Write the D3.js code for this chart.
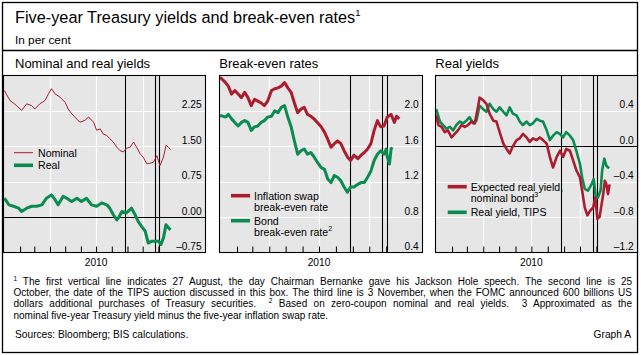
<!DOCTYPE html>
<html><head><meta charset="utf-8">
<script src="https://cdn.jsdelivr.net/npm/d3@7"></script>
<style>body{margin:0;background:#fff}svg{display:block}text{font-family:"Liberation Sans",Arial,sans-serif;fill:#000}</style>
</head><body><svg id="c" width="641" height="355"></svg>
<script>
// ---------------- DATA ----------------
const nominal = [["2010-01-01",2.68],["2010-01-12",2.47],["2010-01-22",2.39],["2010-02-04",2.26],["2010-02-14",2.40],["2010-02-24",2.36],["2010-03-02",2.29],["2010-03-12",2.40],["2010-03-22",2.47],["2010-03-29",2.61],["2010-04-04",2.72],["2010-04-11",2.61],["2010-04-21",2.54],["2010-05-01",2.43],["2010-05-07",2.29],["2010-05-14",2.19],["2010-05-20",2.12],["2010-05-30",2.01],["2010-06-09",2.05],["2010-06-16",2.12],["2010-06-26",2.01],["2010-07-02",1.84],["2010-07-09",1.87],["2010-07-15",1.76],["2010-07-22",1.73],["2010-07-28",1.66],["2010-08-04",1.59],["2010-08-11",1.48],["2010-08-17",1.41],["2010-08-24",1.38],["2010-08-30",1.46],["2010-09-06",1.48],["2010-09-13",1.59],["2010-09-19",1.48],["2010-09-26",1.34],["2010-10-02",1.27],["2010-10-09",1.13],["2010-10-15",1.14],["2010-10-22",1.16],["2010-10-29",1.30],["2010-11-04",1.09],["2010-11-11",1.27],["2010-11-16",1.52],["2010-11-21",1.48],["2010-11-25",1.43]];
const realYield = [["2010-01-01",0.40],["2010-01-10",0.26],["2010-01-19",0.23],["2010-01-29",0.19],["2010-02-04",0.12],["2010-02-14",0.19],["2010-02-24",0.23],["2010-03-06",0.23],["2010-03-16",0.26],["2010-03-25",0.40],["2010-04-04",0.47],["2010-04-11",0.37],["2010-04-17",0.26],["2010-04-27",0.44],["2010-05-04",0.40],["2010-05-14",0.33],["2010-05-24",0.40],["2010-06-02",0.33],["2010-06-12",0.40],["2010-06-22",0.26],["2010-07-02",0.23],["2010-07-12",0.30],["2010-07-22",0.26],["2010-07-28",0.19],["2010-08-04",0.05],["2010-08-11",-0.06],["2010-08-14",-0.02],["2010-08-21",0.12],["2010-08-30",0.09],["2010-09-09",0.19],["2010-09-16",0.05],["2010-09-22",-0.09],["2010-09-29",-0.20],["2010-10-06",-0.30],["2010-10-12",-0.55],["2010-10-19",-0.51],["2010-10-25",-0.51],["2010-11-01",-0.51],["2010-11-06",-0.58],["2010-11-11",-0.44],["2010-11-16",-0.16],["2010-11-21",-0.23],["2010-11-25",-0.27]];
const swapBreakEven = [["2010-01-01",2.38],["2010-01-11",2.32],["2010-01-16",2.28],["2010-01-22",2.19],["2010-01-28",2.23],["2010-02-03",2.19],["2010-02-09",2.15],["2010-02-15",2.21],["2010-02-21",2.15],["2010-02-27",2.06],["2010-03-05",2.13],["2010-03-11",2.11],["2010-03-17",2.09],["2010-03-23",2.06],["2010-03-29",2.11],["2010-04-05",2.23],["2010-04-11",2.25],["2010-04-17",2.26],["2010-04-23",2.28],["2010-04-29",2.32],["2010-05-05",2.26],["2010-05-11",2.21],["2010-05-17",2.09],["2010-05-23",1.98],["2010-05-29",2.02],["2010-06-04",2.04],["2010-06-10",1.96],["2010-06-16",1.94],["2010-06-22",1.91],["2010-06-28",1.87],["2010-07-05",1.82],["2010-07-11",1.76],["2010-07-17",1.68],["2010-07-23",1.59],["2010-07-29",1.63],["2010-08-04",1.66],["2010-08-10",1.63],["2010-08-16",1.55],["2010-08-22",1.48],["2010-08-28",1.44],["2010-09-03",1.50],["2010-09-10",1.46],["2010-09-16",1.50],["2010-09-22",1.53],["2010-09-28",1.57],["2010-10-04",1.63],["2010-10-10",1.78],["2010-10-16",1.89],["2010-10-22",1.82],["2010-10-28",1.83],["2010-11-03",1.93],["2010-11-10",1.96],["2010-11-16",1.87],["2010-11-20",1.94],["2010-11-25",1.91]];
const bondBreakEven = [["2010-01-01",1.95],["2010-01-11",1.93],["2010-01-16",1.96],["2010-01-22",1.91],["2010-01-28",1.87],["2010-02-03",1.83],["2010-02-09",1.87],["2010-02-15",1.89],["2010-02-21",1.87],["2010-02-27",1.78],["2010-03-05",1.82],["2010-03-11",1.83],["2010-03-17",1.87],["2010-03-23",1.89],["2010-03-29",1.93],["2010-04-05",1.94],["2010-04-11",2.00],["2010-04-17",1.98],["2010-04-23",2.04],["2010-04-29",2.06],["2010-05-05",1.93],["2010-05-11",1.82],["2010-05-17",1.66],["2010-05-23",1.51],["2010-05-29",1.55],["2010-06-04",1.57],["2010-06-10",1.51],["2010-06-16",1.53],["2010-06-22",1.48],["2010-06-28",1.42],["2010-07-05",1.36],["2010-07-11",1.34],["2010-07-17",1.23],["2010-07-23",1.19],["2010-07-29",1.27],["2010-08-04",1.25],["2010-08-10",1.21],["2010-08-16",1.14],["2010-08-22",1.08],["2010-08-28",1.14],["2010-09-03",1.14],["2010-09-10",1.17],["2010-09-16",1.19],["2010-09-22",1.19],["2010-09-28",1.25],["2010-10-04",1.32],["2010-10-10",1.44],["2010-10-16",1.51],["2010-10-22",1.55],["2010-10-28",1.51],["2010-11-01",1.57],["2010-11-03",1.48],["2010-11-07",1.40],["2010-11-10",1.57],["2010-11-12",1.59]];
const expectedReal = [["2010-01-02",0.35],["2010-01-06",0.24],["2010-01-12",0.22],["2010-01-18",0.16],["2010-01-24",0.18],["2010-01-31",0.10],["2010-02-06",0.14],["2010-02-12",0.18],["2010-02-19",0.24],["2010-02-25",0.22],["2010-03-03",0.24],["2010-03-10",0.28],["2010-03-16",0.26],["2010-03-22",0.44],["2010-03-25",0.55],["2010-04-01",0.52],["2010-04-07",0.48],["2010-04-13",0.37],["2010-04-20",0.29],["2010-04-26",0.28],["2010-05-02",0.16],["2010-05-09",0.03],["2010-05-15",-0.03],["2010-05-21",-0.08],["2010-05-27",0.00],["2010-06-03",0.07],["2010-06-09",0.09],["2010-06-15",0.14],["2010-06-22",0.10],["2010-06-28",0.05],["2010-07-04",0.09],["2010-07-11",0.07],["2010-07-17",0.10],["2010-07-23",0.07],["2010-07-30",0.03],["2010-08-05",-0.12],["2010-08-11",-0.24],["2010-08-18",-0.12],["2010-08-24",-0.05],["2010-08-30",-0.12],["2010-09-05",-0.03],["2010-09-12",-0.05],["2010-09-18",-0.16],["2010-09-24",-0.27],["2010-10-01",-0.35],["2010-10-05",-0.50],["2010-10-10",-0.69],["2010-10-15",-0.78],["2010-10-20",-0.73],["2010-10-26",-0.69],["2010-10-30",-0.58],["2010-11-03",-0.82],["2010-11-07",-0.80],["2010-11-14",-0.54],["2010-11-17",-0.39],["2010-11-20",-0.43],["2010-11-23",-0.54],["2010-11-26",-0.43]];
const tipsReal = [["2010-01-02",0.42],["2010-01-09",0.28],["2010-01-15",0.24],["2010-01-21",0.20],["2010-01-28",0.22],["2010-02-03",0.18],["2010-02-09",0.24],["2010-02-16",0.28],["2010-02-22",0.26],["2010-02-28",0.29],["2010-03-06",0.33],["2010-03-13",0.26],["2010-03-19",0.29],["2010-03-25",0.46],["2010-04-01",0.42],["2010-04-07",0.39],["2010-04-13",0.48],["2010-04-20",0.42],["2010-04-26",0.39],["2010-05-02",0.44],["2010-05-09",0.39],["2010-05-15",0.35],["2010-05-21",0.44],["2010-05-27",0.37],["2010-06-03",0.35],["2010-06-09",0.28],["2010-06-15",0.24],["2010-06-22",0.28],["2010-06-28",0.24],["2010-07-04",0.26],["2010-07-11",0.31],["2010-07-17",0.29],["2010-07-23",0.28],["2010-07-30",0.18],["2010-08-05",0.07],["2010-08-11",0.12],["2010-08-18",0.16],["2010-08-24",0.14],["2010-08-30",0.10],["2010-09-05",0.16],["2010-09-12",0.12],["2010-09-18",0.07],["2010-09-24",-0.05],["2010-10-01",-0.20],["2010-10-05",-0.35],["2010-10-10",-0.48],["2010-10-16",-0.50],["2010-10-23",-0.43],["2010-10-27",-0.37],["2010-10-31",-0.58],["2010-11-04",-0.58],["2010-11-09",-0.50],["2010-11-12",-0.27],["2010-11-16",-0.14],["2010-11-20",-0.22],["2010-11-25",-0.25]];

const p1Ticks = [-0.75, 0, 0.75, 1.5, 2.25];
const p1Labels = ["\u20130.75", "0.00", "0.75", "1.50", "2.25"];
const p2Ticks = [0.4, 0.8, 1.2, 1.6, 2.0];
const p2Labels = ["0.4", "0.8", "1.2", "1.6", "2.0"];
const p3Ticks = [-1.2, -0.8, -0.4, 0, 0.4];
const p3Labels = ["\u20131.2", "\u20130.8", "\u20130.4", "0.0", "0.4"];
const eventDates = ["2010-08-27", "2010-10-25", "2010-11-03"];
const quarterDates = ["2010-04-01", "2010-07-01", "2010-10-01"];
const monthDates = ["2010-02-01","2010-03-01","2010-04-01","2010-05-01","2010-06-01","2010-07-01","2010-08-01","2010-09-01","2010-10-01","2010-11-01"];
const yearLabel = "2010";
const yearLabelDate = "2010-07-01";
const xDomain = ["2010-01-01", "2011-01-01"];

// ---------------- DRAW ----------------
const RED = "#ab1d2e", GREEN = "#0a8b50", GRAY = "#e6e6e6";
const parse = d3.timeParse("%Y-%m-%d");
const svg = d3.select("#c");
svg.append("rect").attr("width", 641).attr("height", 355).attr("fill", "#fff");

svg.append("rect").attr("x", 2.5).attr("y", 2.5).attr("width", 635).attr("height", 350)
  .attr("fill", "none").attr("stroke", "#000").attr("stroke-width", 1.3);
svg.append("line").attr("x1", 2.5).attr("x2", 637.5).attr("y1", 50.5).attr("y2", 50.5)
  .attr("stroke", "#000").attr("stroke-width", 1.3);

const title = svg.append("text").attr("x", 15).attr("y", 23).attr("font-size", 16.3);
title.append("tspan").text("Five-year Treasury yields and break-even rates");
title.append("tspan").attr("font-size", 9.5).attr("dy", -7).text("1");
svg.append("text").attr("x", 15).attr("y", 44).attr("font-size", 11.8).text("In per cent");

const plotTop = 75.5, plotBottom = 252.5;
const panels = [
  { left: 3.5, right: 205.5, x0: 4.4, x1: 189.3, titleX: 15, title: "Nominal and real yields",
    yDomain: [-0.75, 3.0], ticks: p1Ticks, labels: p1Labels, zero: true,
    series: [{ data: realYield, color: GREEN, w: 3 }, { data: nominal, color: RED, w: 1 }],
    legend: { x: 14, x2: 33, tx: 38, items: [
      { color: RED, w: 1, y: 152.7, lines: [["Nominal"]] },
      { color: GREEN, w: 3.6, y: 165.3, lines: [["Real"]] } ] } },
  { left: 219.5, right: 422.5, x0: 220.1, x1: 419.5, titleX: 219.3, title: "Break-even rates",
    yDomain: [0.4, 2.4], ticks: p2Ticks, labels: p2Labels, zero: false,
    series: [{ data: bondBreakEven, color: GREEN, w: 3 }, { data: swapBreakEven, color: RED, w: 3 }],
    legend: { x: 231, x2: 250, tx: 254, items: [
      { color: RED, w: 3.6, y: 195.7, lines: [["Inflation swap"], ["break-even rate"]] },
      { color: GREEN, w: 3.6, y: 220.7, lines: [["Bond"], ["break-even rate", "2"]] } ] } },
  { left: 435.5, right: 637.5, x0: 435.7, x1: 628.6, titleX: 435.3, title: "Real yields",
    yDomain: [-1.2, 0.8], ticks: p3Ticks, labels: p3Labels, zero: true,
    series: [{ data: tipsReal, color: GREEN, w: 2.6 }, { data: expectedReal, color: RED, w: 2.6 }],
    legend: { x: 447.7, x2: 466.7, tx: 470.7, items: [
      { color: RED, w: 3.6, y: 186.7, lines: [["Expected real yield,"], ["nominal bond", "3"]] },
      { color: GREEN, w: 3.6, y: 212.3, lines: [["Real yield, TIPS"]] } ] } }
];

panels.forEach(p => {
  const x = d3.scaleTime().domain(xDomain.map(parse)).range([p.x0, p.x1]);
  const y = d3.scaleLinear().domain(p.yDomain).range([plotBottom, plotTop]);
  const g = svg.append("g");

  g.append("text").attr("x", p.titleX).attr("y", 68.3).attr("font-size", 13).text(p.title);

  g.append("rect").attr("x", p.left).attr("y", plotTop).attr("width", p.right - p.left)
    .attr("height", plotBottom - plotTop).attr("fill", GRAY);

  g.selectAll(".hg").data(p.ticks.filter(t => t !== 0 && t !== p.yDomain[0])).enter()
    .append("line").attr("x1", p.left).attr("x2", p.right)
    .attr("y1", d => Math.round(y(d)) + 0.5).attr("y2", d => Math.round(y(d)) + 0.5)
    .attr("stroke", "#fff").attr("stroke-width", 1.2);
  g.selectAll(".vg").data(quarterDates).enter()
    .append("line").attr("x1", d => Math.round(x(parse(d))) + 0.5).attr("x2", d => Math.round(x(parse(d))) + 0.5)
    .attr("y1", plotTop).attr("y2", plotBottom).attr("stroke", "#fff").attr("stroke-width", 1.2);

  const xAxis = d3.axisBottom(x).tickValues(monthDates.map(parse)).tickSize(-6).tickFormat("");
  const ax = g.append("g").attr("transform", `translate(0,${plotBottom})`).call(xAxis);
  ax.select(".domain").remove();
  ax.selectAll("line").attr("stroke", "#000").attr("stroke-width", 1);

  if (p.zero) {
    g.append("line").attr("x1", p.left).attr("x2", p.right)
      .attr("y1", Math.round(y(0)) + 0.5).attr("y2", Math.round(y(0)) + 0.5)
      .attr("stroke", "#000").attr("stroke-width", 1);
  }

  g.selectAll(".ev").data(eventDates).enter()
    .append("line").attr("x1", d => Math.round(x(parse(d))) + 0.5).attr("x2", d => Math.round(x(parse(d))) + 0.5)
    .attr("y1", plotTop).attr("y2", plotBottom).attr("stroke", "#000").attr("stroke-width", 1.1);

  p.series.forEach(s => {
    const line = d3.line().x(d => x(parse(d[0]))).y(d => y(d[1]));
    g.append("path").datum(s.data).attr("d", line).attr("fill", "none")
      .attr("stroke", s.color).attr("stroke-width", s.w).attr("stroke-linejoin", "round");
  });

  const yAxis = d3.axisLeft(y).tickValues(p.ticks).tickSize(0).tickPadding(0)
    .tickFormat((d, i) => p.labels[i]);
  const ay = g.append("g").attr("transform", `translate(${p.right - 3.8},0)`).call(yAxis);
  ay.select(".domain").remove();
  ay.attr("font-family", null).attr("font-size", null);
  ay.selectAll("text").attr("dy", null).attr("y", -3).attr("font-size", 10.2).attr("fill", "#000");

  g.append("text").attr("x", x(parse(yearLabelDate))).attr("y", 265.5).attr("text-anchor", "middle")
    .attr("font-size", 10.2).text(yearLabel);

  g.append("rect").attr("x", p.left).attr("y", plotTop).attr("width", p.right - p.left)
    .attr("height", plotBottom - plotTop).attr("fill", "none").attr("stroke", "#000").attr("stroke-width", 1.1);

  p.legend.items.forEach(it => {
    g.append("line").attr("x1", p.legend.x).attr("x2", p.legend.x2).attr("y1", it.y).attr("y2", it.y)
      .attr("stroke", it.color).attr("stroke-width", it.w);
    it.lines.forEach((ln, k) => {
      const t = g.append("text").attr("x", p.legend.tx).attr("y", it.y + 3.8 + k * 11.6).attr("font-size", 10.6);
      t.append("tspan").text(ln[0]);
      if (ln[1]) t.append("tspan").attr("font-size", 7).attr("dy", -5).text(ln[1]);
    });
  });
});

// ---------------- FOOTNOTES ----------------
const fnLeft = 13.5, fnRight = 632;
const fnLines = [
  { parts: [["1", true], [" The first vertical line indicates 27 August, the day Chairman Bernanke gave his Jackson Hole speech. The second line is 25", false]], justify: true },
  { parts: [["October, the date of the TIPS auction discussed in this box. The third line is 3 November, when the FOMC announced 600 billions US", false]], justify: true },
  { parts: [["dollars additional purchases of Treasury securities.  ", false], ["2", true], [" Based on zero-coupon nominal and real yields.  3 Approximated as the", false]], justify: true },
  { parts: [["nominal five-year Treasury yield minus the five-year inflation swap rate.", false]], justify: false }
];
fnLines.forEach((l, i) => {
  const t = svg.append("text").attr("x", fnLeft).attr("y", 285 + i * 11.2).attr("font-size", 10)
    .style("white-space", "pre");
  let prevSup = false;
  l.parts.forEach(([s, sup]) => {
    const ts = t.append("tspan").text(s);
    if (sup) ts.attr("font-size", 6.5).attr("dy", -4);
    else if (prevSup) ts.attr("dy", 4);
    prevSup = sup;
  });
  if (l.justify) {
    const n = t.node();
    const w = n.getComputedTextLength();
    const target = fnRight - fnLeft;
    if (w > target) {
      t.attr("textLength", target).attr("lengthAdjust", "spacingAndGlyphs");
    } else {
      const spaces = (n.textContent.match(/ /g) || []).length;
      t.attr("word-spacing", (target - w) / spaces);
    }
  }
});
svg.append("text").attr("x", 15).attr("y", 338).attr("font-size", 10.2).text("Sources: Bloomberg; BIS calculations.");
svg.append("text").attr("x", 631).attr("y", 338).attr("font-size", 10.2).attr("text-anchor", "end").text("Graph A");
</script></body></html>
